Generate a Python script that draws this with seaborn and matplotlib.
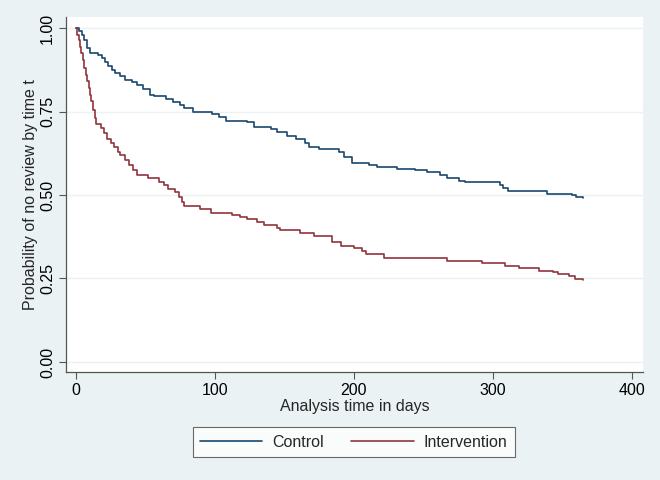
import matplotlib
matplotlib.use("Agg")
import matplotlib.pyplot as plt
import seaborn as sns
import pandas as pd

# ---- data ----
control_time = [0, 2, 4, 6, 8, 10, 16, 19, 21, 23, 26, 28, 32, 35, 40, 44, 48, 53, 56,
                65, 70, 75, 78, 84, 98, 103, 108, 123, 128, 140, 145, 152, 158, 165,
                168, 175, 189, 193, 199, 211, 217, 231, 244, 253, 262, 267, 276, 280,
                305, 307, 311, 339, 357, 360, 365]
control_surv = [1.0, 0.99, 0.98, 0.965, 0.94, 0.924, 0.918, 0.909, 0.897, 0.887, 0.875,
                0.864, 0.855, 0.845, 0.838, 0.828, 0.818, 0.800, 0.795, 0.787, 0.778,
                0.770, 0.760, 0.749, 0.742, 0.733, 0.723, 0.718, 0.705, 0.698, 0.688,
                0.677, 0.667, 0.655, 0.643, 0.637, 0.630, 0.613, 0.597, 0.590, 0.585,
                0.579, 0.575, 0.568, 0.560, 0.550, 0.543, 0.538, 0.530, 0.522, 0.513,
                0.503, 0.500, 0.493, 0.490]

intervention_time = [0, 1, 2, 3, 3.5, 5, 6, 7, 8, 9, 10, 11, 12.5, 13.5, 14.5, 18, 20,
                     22, 25, 27, 30, 32, 35, 38, 41, 44, 52, 60, 63, 66, 71, 74, 76, 78,
                     89, 97, 112, 118, 123, 130, 135, 145, 147, 161, 171, 184, 191, 200,
                     206, 209, 222, 267, 292, 309, 319, 333, 343, 347, 355, 359, 365]
intervention_surv = [1.0, 0.98, 0.964, 0.944, 0.924, 0.905, 0.88, 0.86, 0.84, 0.82, 0.80,
                     0.78, 0.755, 0.73, 0.712, 0.700, 0.685, 0.668, 0.655, 0.645, 0.630,
                     0.620, 0.605, 0.590, 0.575, 0.560, 0.550, 0.540, 0.530, 0.518, 0.510,
                     0.495, 0.480, 0.467, 0.457, 0.445, 0.440, 0.435, 0.427, 0.418, 0.410,
                     0.400, 0.395, 0.385, 0.377, 0.358, 0.347, 0.340, 0.333, 0.323, 0.312,
                     0.302, 0.295, 0.287, 0.280, 0.273, 0.268, 0.263, 0.258, 0.248, 0.245]

groups = ["Control", "Intervention"]
x_ticks = [0, 100, 200, 300, 400]
y_ticks = [0.0, 0.25, 0.5, 0.75, 1.0]
y_tick_labels = ["0.00", "0.25", "0.50", "0.75", "1.00"]

df = pd.concat([
    pd.DataFrame({"time": control_time, "surv": control_surv, "group": groups[0]}),
    pd.DataFrame({"time": intervention_time, "surv": intervention_surv, "group": groups[1]}),
], ignore_index=True)

BG = "#EAF2F3"
sns.set_style("white")
plt.rcParams["font.family"] = ["Liberation Sans", "DejaVu Sans"]

fig = plt.figure(figsize=(6.6, 4.8), dpi=100, facecolor=BG)
ax = fig.add_axes([0.1, 0.225, 0.874, 0.7396])
ax.set_facecolor("white")

sns.lineplot(data=df, x="time", y="surv", hue="group", hue_order=groups,
             palette={"Control": "#1A476F", "Intervention": "#90353B"},
             drawstyle="steps-post", linewidth=1.2, estimator=None, sort=False,
             ax=ax, legend=True)

ax.set_xlim(-7.2, 408)
ax.set_ylim(-0.03, 1.033)
ax.set_xticks(x_ticks)
ax.set_yticks(y_ticks)
ax.set_yticklabels(y_tick_labels, rotation=90, va="center")
ax.tick_params(axis="both", labelsize=11.5, length=5, width=0.8, color="#555555",
               labelcolor="black", direction="out", left=True, bottom=True)
ax.tick_params(axis="x", pad=3)
ax.tick_params(axis="y", pad=3)

ax.yaxis.grid(True, color=BG, linewidth=1.0)
ax.xaxis.grid(False)
ax.set_axisbelow(True)

for s in ["top", "right"]:
    ax.spines[s].set_visible(False)
for s in ["left", "bottom"]:
    ax.spines[s].set_color("#555555")
    ax.spines[s].set_linewidth(0.9)

ax.set_xlabel("Analysis time in days", fontsize=11.5, labelpad=1)
ax.set_ylabel("Probability of no review by time t", fontsize=11.5, labelpad=1)

handles, labels = ax.get_legend_handles_labels()
ax.get_legend().remove()
leg = fig.legend(handles, labels, loc="center", bbox_to_anchor=(0.536, 0.079),
                 ncol=2, frameon=True, fancybox=False, fontsize=11.5,
                 handlelength=3.9, columnspacing=1.7, handletextpad=0.65,
                 borderpad=0.45, edgecolor="#444444")
leg.get_frame().set_linewidth(0.8)
for line in leg.get_lines():
    line.set_linewidth(1.2)

fig.savefig("out.png", dpi=100, facecolor=BG)
